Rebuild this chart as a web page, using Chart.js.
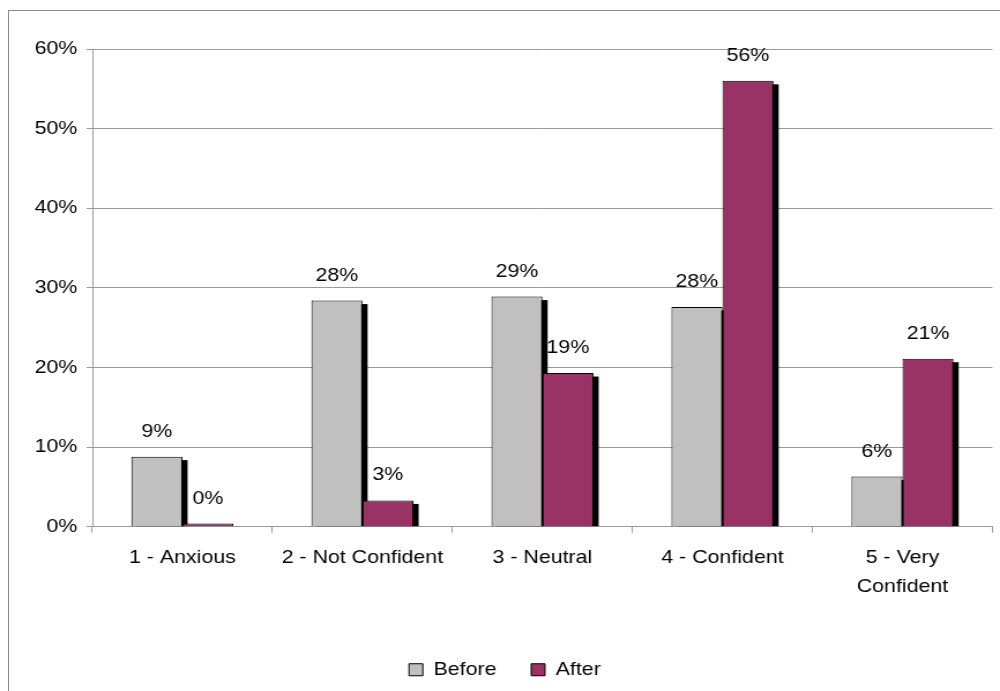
<!DOCTYPE html>
<html>
<head>
<meta charset="utf-8">
<script src="https://cdn.jsdelivr.net/npm/chart.js@4.4.1/dist/chart.umd.min.js"></script>
<style>
  html, body { margin: 0; padding: 0; background: #fff; }
  body { width: 1000px; height: 691px; overflow: hidden; position: relative; }
  #frame {
    position: absolute; left: 8px; top: 10px; width: 1100px; height: 800px;
    border-left: 1px solid #8a8a8a; border-top: 1px solid #8a8a8a;
  }
  /* the drawing is laid out on an 866px-wide canvas and widened to 1000px */
  #wrap {
    position: absolute; left: 0; top: 0; width: 866px; height: 691px;
    transform: scaleX(1.1547); transform-origin: 0 0;
  }
</style>
</head>
<body>
<div id="frame"></div>
<div id="wrap"><canvas id="c" width="866" height="691"></canvas></div>
<script>
const categories = ['1 - Anxious', '2 - Not Confident', '3 - Neutral', '4 - Confident', ['5 - Very', 'Confident']];
const seriesNames = ['Before', 'After'];
const beforeValues = [8.8, 28.4, 28.9, 27.6, 6.3];
const afterValues = [0.4, 3.3, 19.3, 56.0, 21.1];
const yTicks = [0, 10, 20, 30, 40, 50, 60];

const FONT = '"Liberation Sans", Arial, sans-serif';
const FONT_SIZE = 18.5;
const AXIS_GRAY = '#9a9a9a';

// Offset black drop shadow behind every bar
const barShadow = {
  id: 'barShadow',
  beforeDatasetsDraw(chart) {
    const ctx = chart.ctx;
    const dx = 4.5, dy = 3.5;
    ctx.save();
    ctx.fillStyle = '#000';
    chart.data.datasets.forEach((ds, i) => {
      chart.getDatasetMeta(i).data.forEach(bar => {
        const { x, y, base, width } = bar.getProps(['x', 'y', 'base', 'width'], true);
        const h = base - y - dy;
        if (h > 0) ctx.fillRect(x - width / 2 + dx, y + dy, width, h);
      });
    });
    ctx.restore();
  }
};

// Percentage labels above the bars
const valueLabels = {
  id: 'valueLabels',
  afterDatasetsDraw(chart) {
    const ctx = chart.ctx;
    ctx.save();
    ctx.font = FONT_SIZE + 'px ' + FONT;
    ctx.fillStyle = '#000';
    ctx.textAlign = 'center';
    ctx.textBaseline = 'alphabetic';
    chart.data.datasets.forEach((ds, i) => {
      chart.getDatasetMeta(i).data.forEach((bar, j) => {
        const { x, y } = bar.getProps(['x', 'y'], true);
        ctx.fillText(Math.round(ds.data[j]) + '%', x, y - 20);
      });
    });
    ctx.restore();
  }
};

new Chart(document.getElementById('c'), {
  type: 'bar',
  data: {
    labels: categories,
    datasets: [
      {
        label: seriesNames[0],
        data: beforeValues,
        backgroundColor: '#C0C0C0',
        borderColor: '#000',
        borderWidth: 1
      },
      {
        label: seriesNames[1],
        data: afterValues,
        backgroundColor: '#993366',
        borderColor: '#000',
        borderWidth: 1
      }
    ]
  },
  options: {
    responsive: false,
    animation: false,
    events: [],
    categoryPercentage: 0.567,
    barPercentage: 1.0,
    layout: { padding: { top: 49, left: 15, right: 6.5, bottom: 2 } },
    plugins: {
      tooltip: { enabled: false },
      legend: {
        position: 'bottom',
        labels: {
          boxWidth: 12,
          boxHeight: 12,
          padding: 30,
          color: '#000',
          font: { family: FONT, size: FONT_SIZE }
        }
      }
    },
    scales: {
      x: {
        afterFit(scale) { scale.height = 103.8; },
        grid: {
          drawOnChartArea: false,
          drawTicks: true,
          tickLength: 6,
          color: AXIS_GRAY
        },
        border: { color: AXIS_GRAY, width: 1 },
        ticks: {
          color: '#000',
          padding: 11,
          maxRotation: 0,
          autoSkip: false,
          font: { family: FONT, size: FONT_SIZE, lineHeight: 1.54 }
        }
      },
      y: {
        min: 0,
        max: 60,
        afterFit(scale) { scale.width = 65; },
        afterBuildTicks(scale) { scale.ticks = yTicks.map(v => ({ value: v })); },
        grid: {
          color: AXIS_GRAY,
          drawTicks: true,
          tickLength: 5
        },
        border: { color: AXIS_GRAY, width: 1 },
        ticks: {
          color: '#000',
          padding: 8,
          callback: v => v + '%',
          font: { family: FONT, size: FONT_SIZE }
        }
      }
    }
  },
  plugins: [barShadow, valueLabels]
});
</script>
</body>
</html>
